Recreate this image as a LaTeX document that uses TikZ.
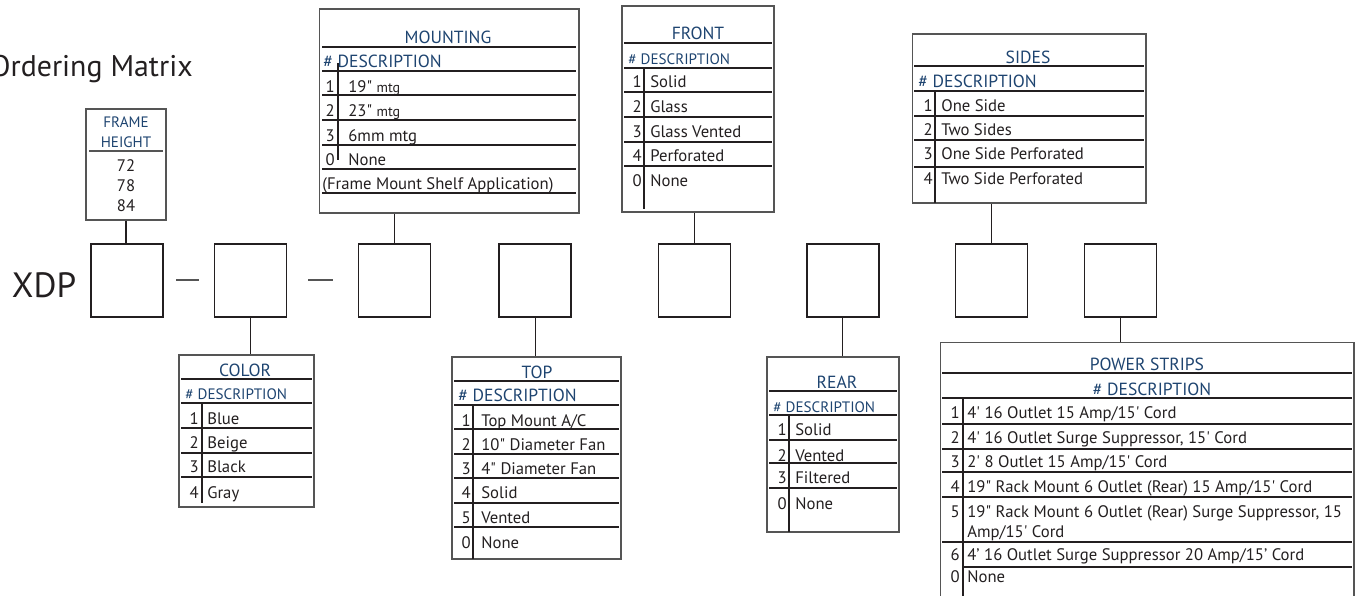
\documentclass[tikz,border=0pt]{standalone}
\usepackage{fontspec}
\setmainfont{PT Sans}
\usetikzlibrary{positioning}
\definecolor{ink}{RGB}{35,31,32}
\definecolor{hdblue}{RGB}{30,68,112}
\definecolor{rulegray}{RGB}{85,85,85}
\newcommand{\inch}{\textquotedbl}
\newcommand{\ft}{\textquotesingle}

\begin{document}
\begin{tikzpicture}[x=0.02cm,y=-0.02cm,
  slot/.style={draw=ink,line width=0.8pt,minimum width=1.44cm,minimum height=1.46cm,inner sep=0},
  tbl/.style={draw=rulegray,line width=0.6pt,inner sep=0},
  hd/.style={text=hdblue,font=\fontsize{10}{12}\selectfont,inner sep=0,text height=7pt,text depth=0pt},
  hds/.style={hd,font=\fontsize{8.6}{10}\selectfont,text height=6pt},
  num/.style={text=ink,font=\fontsize{9.5}{11}\selectfont,inner sep=0,anchor=east,text height=6.6pt,text depth=0pt},
  item/.style={num,anchor=west},
  row/.style={draw=ink,line width=0.6pt},
  link/.style={draw=ink,line width=0.6pt}]
\useasboundingbox (0,0) rectangle (1359,595);

% title and part number
\node[text=ink,font=\fontsize{17}{20}\selectfont,anchor=east,inner sep=0,text height=12pt,text depth=0pt] (title) at (193,66) {Ordering Matrix};
\node[slot] (s1) at (127,280.5) {};
\node[slot, right=1.0cm of s1] (s2) {};
\node[slot, right=1.42cm of s2] (s3) {};
\node[slot, right=1.34cm of s3] (s4) {};
\node[slot, right=1.72cm of s4] (s5) {};
\node[slot, right=1.5cm of s5] (s6) {};
\node[slot, right=1.5cm of s6] (s7) {};
\node[slot, right=1.12cm of s7] (s8) {};
\node[text=ink,font=\fontsize{20}{22}\selectfont,inner sep=0,text height=14pt,text depth=0pt] (xdp) at (44,285) {XDP};
\draw[rulegray,line width=1.1pt] (176,280) -- (199,280);
\draw[rulegray,line width=1.1pt] (308,280) -- (333,280);

% frame height
\node[tbl,minimum width=1.6cm,minimum height=2.22cm] (fh) at (126,164.5) {};
\node[hds] (fh-a) at (126,122) {FRAME};
\node[hds] (fh-b) at (126,142) {HEIGHT};
\draw[rulegray,line width=1pt] (89,151) -- (163,151);
\node[num,anchor=center] (fh-1) at (126,166) {72};
\node[num,anchor=center] (fh-2) at (126,186) {78};
\node[num,anchor=center] (fh-3) at (126,206) {84};
\draw[link] (fh.south) -- (fh.south |- s1.north);

% mounting
\node[tbl,minimum width=5.2cm,minimum height=4.08cm] (mnt) at (449,111) {};
\node[hd] (mnt-h) at (448,37) {MOUNTING};
\node[hd,anchor=west] (mnt-d) at (323,61) {\# DESCRIPTION};
\foreach \y in {47,71,95,120,145,169,193} \draw[row] (322,\y) -- (576,\y);
\draw[row] (338,63) -- (338,160);
\foreach \n/\y/\t in {1/87/{19\inch{} {\fontsize{8}{9}\selectfont mtg}},2/111/{23\inch{} {\fontsize{8}{9}\selectfont mtg}},3/136/6mm mtg,0/160/None} {
  \node[num] (mnt-n\n) at (335,\y) {\n};
  \node[item] (mnt-t\n) at (348,\y) {\t};
}
\node[item] (mnt-x) at (322,184) {(Frame Mount Shelf Application)};
\draw[link] (s3.north) -- (s3.north |- mnt.south);

% front
\node[tbl,minimum width=3.04cm,minimum height=4.12cm] (frt) at (698,109) {};
\node[hd] (frt-h) at (698,33) {FRONT};
\node[hds,anchor=west] (frt-d) at (628,59) {\# DESCRIPTION};
\foreach \y in {43,68,92,117,142,166} \draw[row] (624,\y) -- (772,\y);
\draw[row] (644,68) -- (644,209);
\foreach \n/\y/\t in {1/82/Solid,2/107/Glass,3/132/Glass Vented,4/156/Perforated,0/181/None} {
  \node[num] (frt-n\n) at (642,\y) {\n};
  \node[item] (frt-t\n) at (650,\y) {\t};
}
\draw[link] (s5.north) -- (s5.north |- frt.south);

% sides
\node[tbl,minimum width=4.68cm,minimum height=3.38cm] (sds) at (1029,118.5) {};
\node[hd] (sds-h) at (1028,57) {SIDES};
\node[hd,anchor=west] (sds-d) at (918,81) {\# DESCRIPTION};
\foreach \y in {66,91,116,140,167} \draw[row] (914,\y) -- (1144,\y);
\draw[row] (935,91) -- (935,203);
\foreach \n/\y/\t in {1/106/One Side,2/130/Two Sides,3/154/One Side Perforated,4/179/Two Side Perforated} {
  \node[num] (sds-n\n) at (933,\y) {\n};
  \node[item] (sds-t\n) at (941,\y) {\t};
}
\draw[link] (s7.north) -- (s7.north |- sds.south);

% color
\node[tbl,minimum width=2.7cm,minimum height=3.04cm] (clr) at (246.5,431) {};
\node[hd] (clr-h) at (245,370) {COLOR};
\node[hds,anchor=west] (clr-d) at (185,394) {\# DESCRIPTION};
\foreach \y in {379,403,428,453,477} \draw[row] (181,\y) -- (312,\y);
\draw[row] (202,403) -- (202,503);
\foreach \n/\y/\t in {1/419/Blue,2/443/Beige,3/467/Black,4/493/Gray} {
  \node[num] (clr-n\n) at (199,\y) {\n};
  \node[item] (clr-t\n) at (207,\y) {\t};
}
\draw[link] (s2.south) -- (s2.south |- clr.north);

% top
\node[tbl,minimum width=3.38cm,minimum height=4.04cm] (tp) at (536.5,458) {};
\node[hd] (tp-h) at (537,372) {TOP};
\node[hd,anchor=west] (tp-d) at (458,395) {\# DESCRIPTION};
\foreach \y in {381,405,429,454,478,503,527} \draw[row] (454,\y) -- (619,\y);
\draw[row] (473,405) -- (473,559);
\foreach \n/\y/\t in {1/421/{Top Mount A/C},2/445/{10\inch{} Diameter Fan},3/469/{4\inch{} Diameter Fan},4/493/Solid,5/518/Vented,0/543/None} {
  \node[num] (tp-n\n) at (471,\y) {\n};
  \node[item] (tp-t\n) at (481,\y) {\t};
}
\draw[link] (s4.south) -- (s4.south |- tp.north);

% rear
\node[tbl,minimum width=2.64cm,minimum height=3.5cm] (rer) at (833,444.5) {};
\node[hd] (rer-h) at (837,382) {REAR};
\node[hds,anchor=west] (rer-d) at (773,407) {\# DESCRIPTION};
\foreach \y in {391,415,440,463,488} \draw[row] (769,\y) -- (897,\y);
\draw[row] (789,415) -- (789,532);
\foreach \n/\y/\t in {1/430/Solid,2/456/Vented,3/478/Filtered,0/504/None} {
  \node[num] (rer-n\n) at (787,\y) {\n};
  \node[item] (rer-t\n) at (795,\y) {\t};
}
\draw[link] (s6.south) -- (s6.south |- rer.north);

% power strips
\node[tbl,minimum width=8.28cm,minimum height=5.16cm] (pwr) at (1147,471) {};
\node[hd] (pwr-h) at (1147,364) {POWER STRIPS};
\node[hd] (pwr-d) at (1152,389) {\# DESCRIPTION};
\foreach \y in {373,398,424,449,472,497,542} \draw[row] (942,\y) -- (1352,\y);
\draw[row] (963,567) -- (1352,567);
\draw[row] (963,398) -- (963,600);
\foreach \n/\y/\t in {1/413/{4\ft{} 16 Outlet 15 Amp/15\ft{} Cord},2/438/{4\ft{} 16 Outlet Surge Suppressor, 15\ft{} Cord},3/462/{2\ft{} 8 Outlet 15 Amp/15\ft{} Cord},4/487/{19\inch{} Rack Mount 6 Outlet (Rear) 15 Amp/15\ft{} Cord},5/512/{19\inch{} Rack Mount 6 Outlet (Rear) Surge Suppressor, 15},6/555/{4’ 16 Outlet Surge Suppressor 20 Amp/15’ Cord},0/577/None} {
  \node[num] (pwr-n\n) at (960,\y) {\n};
  \node[item] (pwr-t\n) at (967,\y) {\t};
}
\node[item] (pwr-t5b) at (967,532) {Amp/15\ft{} Cord};
\draw[link] (s8.south) -- (s8.south |- pwr.north);
\end{tikzpicture}
\end{document}
